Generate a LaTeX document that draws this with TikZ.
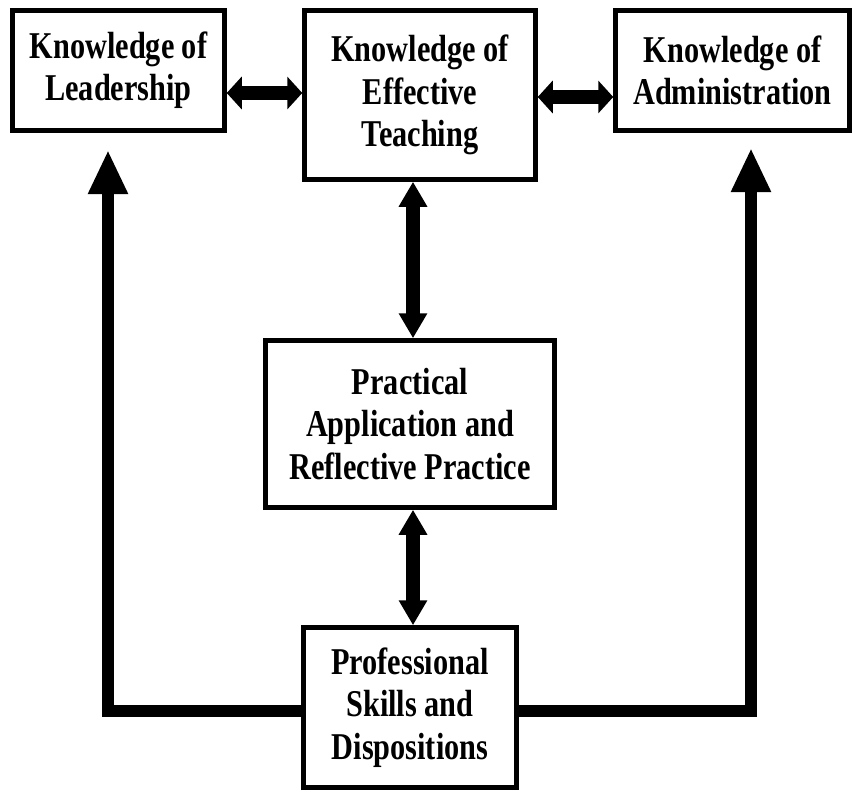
\documentclass[tikz,border=0pt]{standalone}
\usepackage{fontspec}
\setmainfont{Liberation Serif}[FakeStretch=0.8]
\usetikzlibrary{arrows.meta}

\begin{document}
\begin{tikzpicture}[x=1bp,y=-1bp,
    box/.style={draw,line width=4.5bp,align=center,inner sep=0pt,font=\fontsize{38}{42.5}\selectfont\bfseries},
    hlink/.style={line width=14bp,{Triangle[length=15bp,width=32bp]}-{Triangle[length=15bp,width=32bp]}},
    vlink/.style={line width=14bp,{Triangle[length=25bp,width=27bp]}-{Triangle[length=25bp,width=27bp]}},
    feed/.style={line width=12.5bp,-{Triangle[length=44bp,width=37bp]}}]
  \useasboundingbox (0,0) rectangle (857,795);
  % top row
  \node[box,minimum width=212bp,minimum height=120bp] (lead) at (118.5,70.5) {Knowledge of\\Leadership};
  \node[box,minimum width=231bp,minimum height=169bp] (teach) at (420,95) {Knowledge of\\Effective\\Teaching};
  \node[box,minimum width=234bp,minimum height=120bp] (admin) at (732.5,70.5) {Knowledge of\\Administration};
  % middle and bottom
  \node[box,minimum width=289bp,minimum height=167bp] (pract) at (410,424) {Practical\\Application and\\Reflective Practice};
  \node[box,minimum width=213bp,minimum height=160bp] (prof) at (410,707.5) {Professional\\Skills and\\Dispositions};
  \coordinate (lefttip) at (108,150);
  \coordinate (righttip) at (751,148);
  \draw[hlink] (lead.east |- 0,93) -- (teach.west |- 0,93);
  \draw[hlink] (teach.east |- 0,97) -- (admin.west |- 0,97);
  \draw[vlink] (teach.south -| 413,0) -- (pract.north -| 413,0);
  \draw[vlink] (pract.south -| 413,0) -- (prof.north -| 413,0);
  \draw[feed] (prof.west |- 0,711) -| (lefttip);
  \draw[feed] (prof.east |- 0,711) -| (righttip);
\end{tikzpicture}
\end{document}
